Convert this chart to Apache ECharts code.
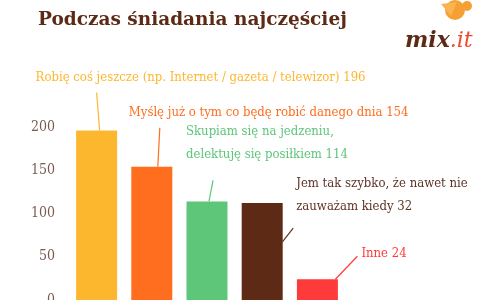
<!DOCTYPE html>
<html>
<head>
<meta charset="utf-8">
<script src="https://cdn.jsdelivr.net/npm/echarts@6/dist/echarts.min.js"></script>
<style>
  html, body { margin: 0; padding: 0; background: #fff; }
  #chart { width: 501px; height: 300px; }
</style>
</head>
<body>
<div id="chart"></div>
<script>
// data
const categories = ['Robię coś jeszcze', 'Myślę już o tym', 'Skupiam się', 'Jem tak szybko', 'Inne'];
const values = [196, 154, 114, 112, 24];
const labelTexts = [
  'Robię coś jeszcze (np. Internet / gazeta / telewizor) 196',
  'Myślę już o tym co będę robić danego dnia 154',
  'Skupiam się na jedzeniu,\ndelektuję się posiłkiem 114',
  'Jem tak szybko, że nawet nie\nzauważam kiedy 32',
  'Inne 24'
];
const yTicks = [0, 50, 100, 150, 200];

const colors = ['#FDB72E', '#FF6D1F', '#5DC679', '#5D2A16', '#FF3A3A'];
const textColors = ['#FDB72E', '#FF6D1F', '#5DC679', '#5D3324', '#FF3A3A'];
// leader line start / end and text anchor, relative to the bar's top centre
const labelLayout = [
  { ls: [3, 0], le: [0, -38], t: [-61, -53] },
  { ls: [6, 0], le: [8, -39], t: [-23, -54] },
  { ls: [2, 0], le: [6, -21], t: [-21, -58] },
  { ls: [20, 39], le: [31, 25], t: [34, -8] },
  { ls: [18, 0], le: [40, -23], t: [44, -26] }
];

const font = '"DejaVu Serif Condensed", "Liberation Serif", serif';

const chart = echarts.init(document.getElementById('chart'));

chart.setOption({
  backgroundColor: '#fff',
  animation: false,
  title: {
    text: 'Podczas śniadania najczęściej',
    left: 33,
    top: 6,
    textStyle: { color: '#5D2A16', fontFamily: '"DejaVu Serif", serif', fontWeight: 'bold', fontSize: 18.5 }
  },
  grid: { left: 69, right: 156, top: 127, bottom: 0, outerBoundsMode: 'none' },
  xAxis: {
    type: 'category',
    data: categories,
    axisLine: { show: false },
    axisTick: { show: false },
    axisLabel: { show: false }
  },
  yAxis: {
    type: 'value',
    min: 0,
    max: yTicks[yTicks.length - 1],
    interval: 50,
    splitLine: { show: false },
    axisLabel: { color: '#7A5A50', fontFamily: font, fontSize: 14, margin: 14 }
  },
  series: [
    {
      type: 'bar',
      barWidth: 41,
      data: values.map((v, i) => ({ value: v, itemStyle: { color: colors[i] } }))
    },
    {
      type: 'custom',
      clip: false,
      z: 5,
      data: values.map((v, i) => [i, v]),
      renderItem: function (params, api) {
        const i = params.dataIndex;
        const p = api.coord([api.value(0), api.value(1)]);
        const L = labelLayout[i];
        return {
          type: 'group',
          children: [
            {
              type: 'line',
              shape: { x1: p[0] + L.ls[0], y1: p[1] + L.ls[1], x2: p[0] + L.le[0], y2: p[1] + L.le[1] },
              style: { stroke: textColors[i], lineWidth: 1.2 }
            },
            {
              type: 'text',
              x: p[0] + L.t[0],
              y: p[1] + L.t[1],
              style: {
                text: labelTexts[i],
                fill: textColors[i],
                font: '13px ' + font,
                lineHeight: 23,
                verticalAlign: 'middle'
              }
            }
          ]
        };
      }
    }
  ],
  graphic: [
    {
      type: 'group',
      left: 405,
      top: 0,
      children: [
        { type: 'circle', shape: { cx: 50, cy: 2, r: 10 }, style: { fill: '#F6A033' } },
        { type: 'polygon', shape: { points: [[36, -4], [46, 8], [52, -6]] }, style: { fill: '#F8B450' } },
        { type: 'circle', shape: { cx: 62, cy: -2, r: 5 }, style: { fill: '#F6A033' } },
        {
          type: 'text',
          x: 0,
          y: 22,
          style: {
            text: '{a|mix}{b|.it}',
            rich: {
              a: { fill: '#5D2A16', font: 'italic bold 22px "DejaVu Serif", serif' },
              b: { fill: '#F04A2A', font: 'italic 22px "DejaVu Serif", serif' }
            }
          }
        }
      ]
    }
  ]
});
</script>
</body>
</html>
